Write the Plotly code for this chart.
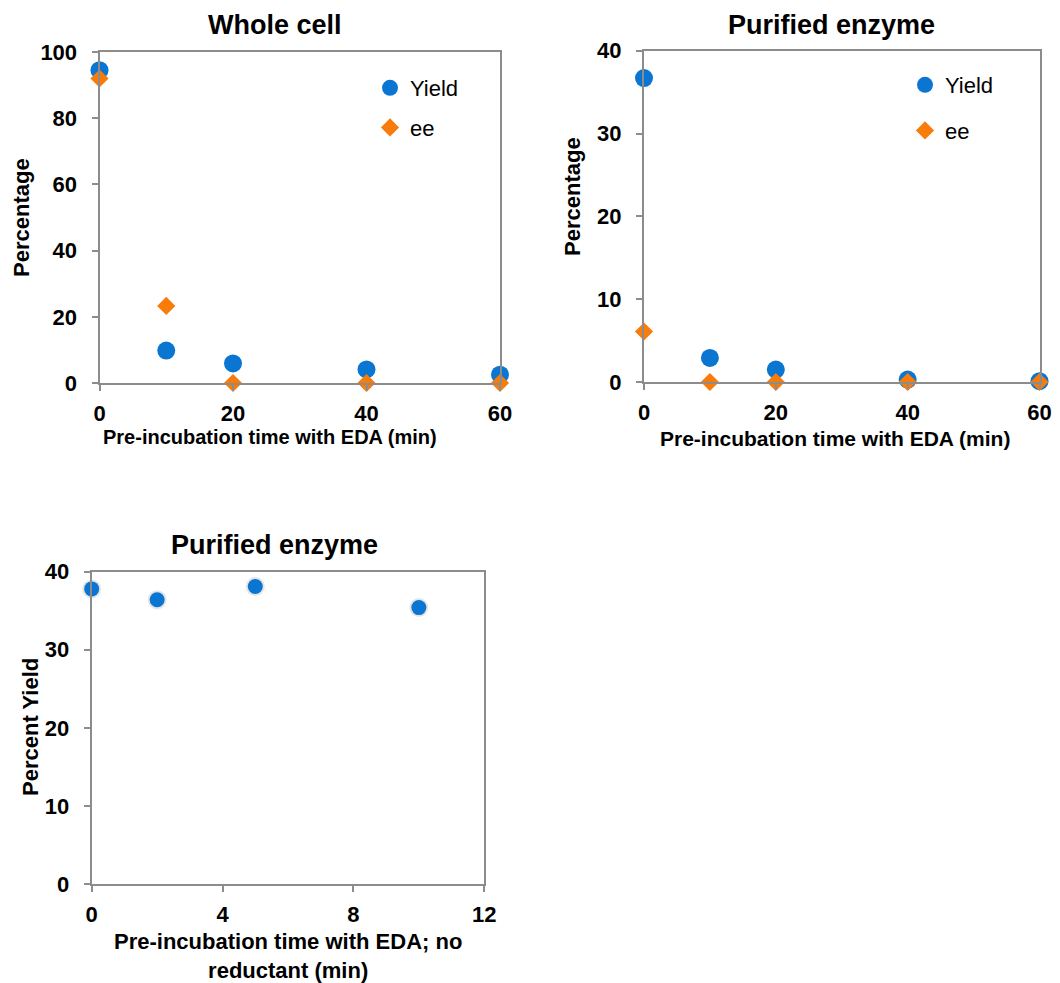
import plotly.graph_objects as go

# Whole cell: pre-incubation time (min) vs yield / ee (%)
wc_time = [0, 10, 20, 40, 60]
wc_yield = [94.5, 9.8, 5.9, 4.1, 2.5]
wc_ee = [92, 23.3, 0, 0, 0]

# Purified enzyme with EDA
pe_time = [0, 10, 20, 40, 60]
pe_yield = [36.7, 2.9, 1.5, 0.3, 0.1]
pe_ee = [6.1, 0, 0, 0, 0]

# Purified enzyme with EDA, no reductant
nr_time = [0, 2, 5, 10]
nr_yield = [37.8, 36.4, 38.1, 35.4]

BLUE = "#0a76d2"
ORANGE = "#f97b0a"
AXIS_GRAY = "#8c8c8c"
FONT = "Liberation Sans, Arial, sans-serif"
W, H = 1060, 983

fig = go.Figure()

# --- Whole cell ---
fig.add_trace(go.Scatter(x=wc_time, y=wc_yield, mode="markers", name="Yield",
                         marker=dict(symbol="circle", size=18, color=BLUE),
                         xaxis="x", yaxis="y", legend="legend", legendgroup="a",
                         cliponaxis=False))
fig.add_trace(go.Scatter(x=wc_time, y=wc_ee, mode="markers", name="ee",
                         marker=dict(symbol="diamond", size=14, color=ORANGE),
                         xaxis="x", yaxis="y", legend="legend", legendgroup="b",
                         cliponaxis=False))

# --- Purified enzyme ---
fig.add_trace(go.Scatter(x=pe_time, y=pe_yield, mode="markers", name="Yield",
                         marker=dict(symbol="circle", size=18, color=BLUE),
                         xaxis="x2", yaxis="y2", legend="legend2", legendgroup="c",
                         cliponaxis=False))
fig.add_trace(go.Scatter(x=pe_time, y=pe_ee, mode="markers", name="ee",
                         marker=dict(symbol="diamond", size=14, color=ORANGE),
                         xaxis="x2", yaxis="y2", legend="legend2", legendgroup="d",
                         cliponaxis=False))

# --- Purified enzyme, no reductant (soft shadow under each point) ---
fig.add_trace(go.Scatter(x=nr_time, y=nr_yield, mode="markers", showlegend=False,
                         marker=dict(symbol="circle", size=19, color="rgba(0,0,0,0.10)"),
                         xaxis="x3", yaxis="y3", cliponaxis=False, hoverinfo="skip"))
fig.add_trace(go.Scatter(x=nr_time, y=nr_yield, mode="markers", showlegend=False,
                         marker=dict(symbol="circle", size=15, color=BLUE),
                         xaxis="x3", yaxis="y3", cliponaxis=False))

tickfont = dict(family=FONT, size=22, color="black", weight="bold")


def axis(domain, anchor, rng, dtick, standoff):
    return dict(domain=domain, anchor=anchor, range=rng, dtick=dtick, tick0=0,
                showline=True, linecolor=AXIS_GRAY, linewidth=2, mirror=True,
                ticks="outside", ticklen=6, tickwidth=2, tickcolor=AXIS_GRAY,
                showgrid=False, zeroline=False, tickfont=tickfont,
                ticklabelstandoff=standoff, automargin=False, fixedrange=True)


def px_x(p):
    return p / W


def px_y(p):
    return 1 - p / H


fig.update_layout(
    template="none",
    width=W, height=H,
    margin=dict(l=0, r=0, t=0, b=0, pad=0),
    paper_bgcolor="white", plot_bgcolor="white",
    font=dict(family=FONT, color="black"),
    xaxis=axis([px_x(99.5), px_x(500)], "y", [0, 60], 20, 4),
    yaxis=axis([px_y(383), px_y(52)], "x", [0, 100], 20, 10),
    xaxis2=axis([px_x(644), px_x(1039.5)], "y2", [0, 60], 20, 4),
    yaxis2=axis([px_y(382), px_y(50.7)], "x2", [0, 40], 10, 10),
    xaxis3=axis([px_x(91.7), px_x(484.3)], "y3", [0, 12], 4, 4),
    yaxis3=axis([px_y(884), px_y(571.7)], "x3", [0, 40], 10, 10),
    legend=dict(x=px_x(370), y=px_y(67), xanchor="left", yanchor="top",
                bgcolor="rgba(0,0,0,0)", tracegroupgap=8,
                font=dict(family=FONT, size=22, color="black")),
    legend2=dict(x=px_x(905), y=px_y(64), xanchor="left", yanchor="top",
                 bgcolor="rgba(0,0,0,0)", tracegroupgap=14,
                 font=dict(family=FONT, size=22, color="black")),
)

title_font = dict(family=FONT, size=27, color="black", weight="bold")
label_font = dict(family=FONT, size=22, color="black", weight="bold")

annotations = [
    # subplot titles
    dict(text="Whole cell", x=px_x(275), y=px_y(25), font=title_font),
    dict(text="Purified enzyme", x=px_x(831), y=px_y(25), font=title_font),
    dict(text="Purified enzyme", x=px_x(274), y=px_y(545), font=title_font),
    # axis titles
    dict(text="Percentage", x=px_x(22), y=px_y(218), textangle=-90, font=label_font),
    dict(text="Pre-incubation time with EDA (min)", x=px_x(270), y=px_y(437),
         font=dict(family=FONT, size=20, color="black", weight="bold")),
    dict(text="Percentage", x=px_x(572), y=px_y(197), textangle=-90, font=label_font),
    dict(text="Pre-incubation time with EDA (min)", x=px_x(835), y=px_y(439),
         font=dict(family=FONT, size=21, color="black", weight="bold")),
    dict(text="Percent Yield", x=px_x(30), y=px_y(727), textangle=-90, font=label_font),
    dict(text="Pre-incubation time with EDA; no<br>reductant (min)", x=px_x(288), y=px_y(956),
         font=label_font),
]
for a in annotations:
    a.update(xref="paper", yref="paper", xanchor="center", yanchor="middle",
             showarrow=False)
fig.update_layout(annotations=annotations)

fig.write_html("out.html")
